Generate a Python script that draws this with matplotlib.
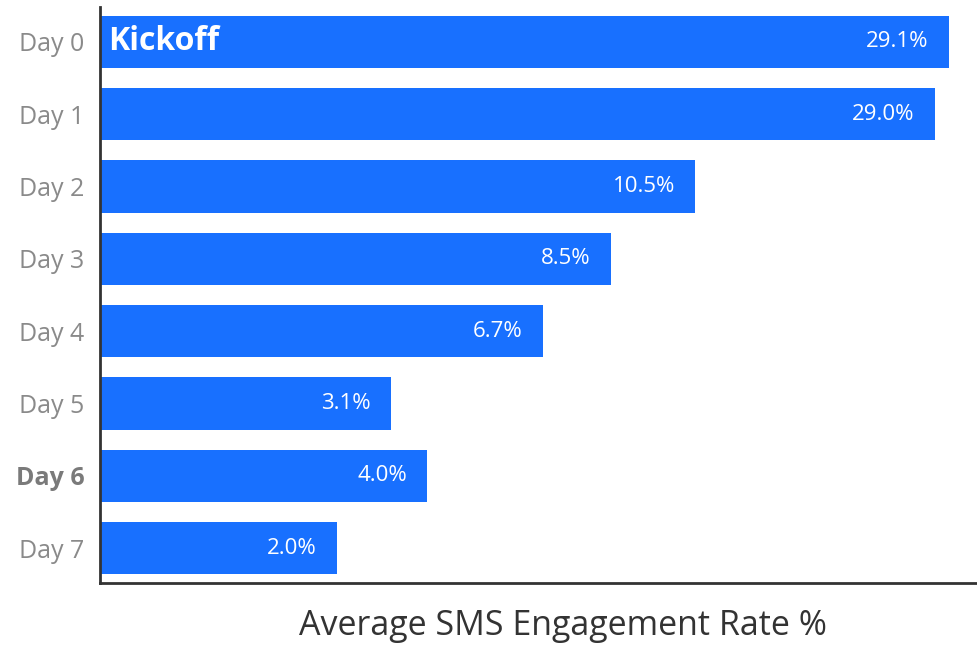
import matplotlib
matplotlib.use("Agg")
import matplotlib.pyplot as plt

categories = ["Day 0", "Day 1", "Day 2", "Day 3", "Day 4", "Day 5", "Day 6", "Day 7"]
bar_extent = [29.33, 28.85, 20.56, 17.66, 15.31, 10.06, 11.30, 8.19]
value_labels = ["29.1%", "29.0%", "10.5%", "8.5%", "6.7%", "3.1%", "4.0%", "2.0%"]
highlight_tick = "Day 6"
bar_note = "Kickoff"
x_label = "Average SMS Engagement Rate %"

FONT = ["Open Sans", "DejaVu Sans"]
plt.rcParams["font.family"] = FONT

fig = plt.figure(figsize=(9.77, 6.51), dpi=100)
ax = fig.add_axes([100 / 977, 68 / 651, 926 / 977, 576 / 651])

ypos = list(range(len(categories)))
bars = ax.barh(ypos, bar_extent, height=0.72, color="#1870FF", zorder=2)

ax.set_xlim(0, 32)
ax.set_ylim(len(categories) - 0.52, -0.48)

for b, lab in zip(bars, value_labels):
    ax.annotate(lab, xy=(b.get_width(), b.get_y() + b.get_height() / 2),
                xytext=(-14.5, 0), textcoords="offset points",
                ha="right", va="center", color="white", fontsize=16)

b0 = bars[0]
ax.annotate(bar_note, xy=(0, b0.get_y() + b0.get_height() / 2),
            xytext=(5.5, 0), textcoords="offset points",
            ha="left", va="center", color="white", fontsize=23, fontweight="bold")

ax.set_yticks(ypos)
ax.set_yticklabels(categories, fontsize=18, color="#8a8a8a")
for t in ax.get_yticklabels():
    if t.get_text() == highlight_tick:
        t.set_fontweight("bold")
        t.set_color("#7a7a7a")
ax.tick_params(axis="y", length=0, pad=11)
ax.set_xticks([])

for s in ["top", "right"]:
    ax.spines[s].set_visible(False)
for s in ["left", "bottom"]:
    ax.spines[s].set_color("#333333")
    ax.spines[s].set_linewidth(2)

ax.set_xlabel(x_label, fontsize=24.5, color="#333333", labelpad=19)

fig.savefig("out.png", dpi=100)
